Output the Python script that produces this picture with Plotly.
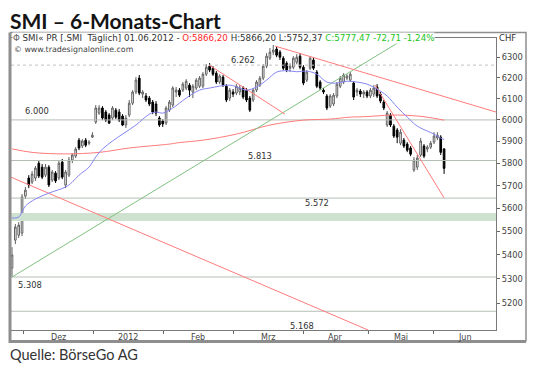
import math
import plotly.graph_objects as go

# ---------------- data ----------------
TITLE = "SMI – 6-Monats-Chart"
SOURCE = "Quelle: BörseGo AG"
SYMBOL = "SMI« PR [.SMI\u00a0\u00a0Täglich]"
LAST_DATE = "01.06.2012"
WEBSITE = "© www.tradesignalonline.com"
CURRENCY = "CHF"

OPEN = [5345, 5463, 5484, 5493, 5654, 5734, 5716, 5734, 5801, 5783,
        5747, 5783, 5725, 5756, 5734, 5806, 5703, 5747, 5815, 5833,
        5906, 5879, 5906, 5892, 5920, 5990, 6032, 6056, 6037, 6023,
        6009, 6046, 6037, 6018, 5976, 6023, 6079, 6132, 6199, 6122,
        6113, 6103, 6084, 6075, 6009, 5995, 5985, 6046, 6070, 6132,
        6141, 6141, 6151, 6165, 6132, 6151, 6160, 6160, 6218, 6257,
        6247, 6223, 6180, 6204, 6160, 6103, 6132, 6127, 6132, 6151,
        6141, 6103, 6094, 6141, 6165, 6199, 6257, 6296, 6326, 6341,
        6326, 6296, 6271, 6247, 6252, 6276, 6306, 6252, 6189, 6247,
        6287, 6228, 6180, 6141, 6113, 6065, 6075, 6113, 6160, 6180,
        6199, 6189, 6175, 6132, 6137, 6122, 6132, 6113, 6122, 6156,
        6122, 6084, 5976, 6023, 5971, 5953, 5892, 5906, 5888, 5870,
        5770, 5783, 5838, 5879, 5865, 5874, 5897, 5916, 5920, 5866.20]
HIGH = [5433, 5532, 5540, 5663, 5694, 5747, 5765, 5788, 5815, 5797,
        5797, 5792, 5770, 5765, 5815, 5820, 5770, 5829, 5847, 5874,
        5916, 5911, 5916, 5906, 5943, 6070, 6070, 6065, 6046, 6032,
        6065, 6056, 6051, 6027, 6023, 6094, 6141, 6204, 6214, 6141,
        6127, 6113, 6094, 6089, 6018, 6004, 6065, 6094, 6160, 6156,
        6151, 6180, 6194, 6175, 6170, 6199, 6209, 6228, 6267, 6272,
        6257, 6233, 6218, 6214, 6170, 6151, 6146, 6170, 6165, 6160,
        6151, 6113, 6151, 6189, 6209, 6267, 6321, 6346, 6361, 6356,
        6336, 6306, 6281, 6271, 6306, 6316, 6321, 6262, 6238, 6306,
        6300, 6238, 6189, 6151, 6122, 6122, 6127, 6180, 6209, 6223,
        6218, 6228, 6184, 6151, 6146, 6141, 6141, 6151, 6165, 6170,
        6132, 6094, 6042, 6032, 5981, 5962, 5957, 5916, 5897, 5879,
        5829, 5838, 5916, 5888, 5883, 5902, 5943, 5943, 5929, 5866.20]
LOW = [5308, 5446, 5472, 5480, 5641, 5689, 5707, 5721, 5734, 5729,
       5738, 5694, 5716, 5712, 5725, 5729, 5689, 5738, 5801, 5824,
       5860, 5870, 5874, 5883, 5916, 5981, 6023, 5999, 5990, 5981,
       5999, 6004, 5990, 5971, 5962, 6013, 6070, 6122, 6117, 6103,
       6084, 6065, 6027, 6018, 5967, 5967, 5976, 6037, 6060, 6108,
       6108, 6132, 6141, 6108, 6103, 6141, 6151, 6151, 6209, 6228,
       6209, 6170, 6170, 6156, 6084, 6089, 6108, 6117, 6117, 6098,
       6084, 6037, 6084, 6132, 6156, 6189, 6247, 6287, 6311, 6301,
       6287, 6238, 6228, 6228, 6242, 6266, 6242, 6165, 6180, 6238,
       6238, 6151, 6141, 6122, 6046, 6056, 6065, 6103, 6151, 6170,
       6189, 6180, 6094, 6113, 6108, 6103, 6103, 6103, 6108, 6103,
       6079, 6046, 5967, 5967, 5916, 5892, 5883, 5870, 5851, 5833,
       5761, 5770, 5829, 5824, 5851, 5865, 5888, 5906, 5838, 5752.37]
CLOSE = [5400, 5519, 5527, 5650, 5680, 5703, 5752, 5779, 5743, 5738,
         5783, 5703, 5761, 5721, 5801, 5738, 5761, 5815, 5838, 5865,
         5870, 5902, 5883, 5897, 5929, 6056, 6056, 6009, 5999, 5985,
         6056, 6013, 5999, 5976, 6009, 6079, 6132, 6189, 6127, 6132,
         6094, 6075, 6037, 6032, 5976, 5981, 6056, 6084, 6151, 6141,
         6117, 6170, 6184, 6141, 6160, 6189, 6199, 6218, 6252, 6238,
         6218, 6180, 6209, 6165, 6094, 6141, 6122, 6160, 6151, 6108,
         6094, 6046, 6141, 6180, 6199, 6257, 6306, 6326, 6336, 6311,
         6301, 6247, 6238, 6257, 6296, 6301, 6252, 6175, 6228, 6296,
         6247, 6160, 6151, 6132, 6056, 6113, 6117, 6170, 6199, 6214,
         6209, 6218, 6108, 6141, 6122, 6132, 6113, 6141, 6151, 6113,
         6089, 6056, 6032, 5976, 5925, 5920, 5943, 5879, 5860, 5842,
         5815, 5824, 5902, 5833, 5874, 5892, 5925, 5929, 5850.18, 5777.47]

# short moving average (blue), read at selected candles
MA_FAST_IDX = [0, 2, 4, 7, 11, 16, 18, 20, 23, 25, 27, 30, 33, 37, 41, 43, 45, 48, 52,
               56, 59, 65, 68, 70, 73, 76, 79, 82, 85, 88, 91, 94, 97, 100, 103, 106,
               109, 112, 115, 118, 121, 124, 126, 128, 129]
MA_FAST = [5558, 5562, 5610, 5641, 5667, 5694, 5716, 5747, 5783, 5829, 5865, 5902, 5934,
           5976, 6027, 6037, 6032, 6056, 6103, 6141, 6151, 6165, 6151, 6141, 6156, 6189,
           6228, 6235, 6230, 6233, 6218, 6180, 6175, 6184, 6180, 6170, 6146, 6113, 6060,
           6013, 5971, 5948, 5934, 5916, 5909]

# long moving average (red curve)
MA_SLOW_IDX = [0, 6, 16, 26, 35, 47, 50, 57, 67, 77, 87, 95, 101, 105, 115, 123, 129]
MA_SLOW = [5866, 5850, 5843, 5850, 5870, 5888, 5895, 5906, 5934, 5976, 5999, 6004,
           6013, 6015, 6023, 6015, 5999]

# drawn trend lines: (candle index, price) endpoints
GREEN_TREND = [(0, 5308), (117, 6390)]
RED_TRENDS = [
    [(-0.3, 5738), (106.3, 5093)],
    [(58.9, 6262), (81.5, 6027)],
    [(78.5, 6356), (144.5, 6037)],
    [(108.4, 6165), (129, 5646)],
]

# horizontal levels
LEVEL_DOTTED = 6262
LEVELS = [6000, 5813, 5645, 5308, 5168]
BAND = (5545, 5580)
LEVEL_TEXT = ["6.262", "6.000", "5.813", "5.572", "5.308", "5.168"]
LEVEL_TEXT_IDX = [69, 7.4, 74, 91.2, 5.5, 86.7]
LEVEL_TEXT_PRICE = [6287, 6042, 5833, 5622, 5275, 5107]

Y_TICKS = [5200, 5300, 5400, 5500, 5600, 5700, 5800, 5900, 6000, 6100, 6200, 6300]
MONTH_LABELS = ["Dez", "2012", "Feb", "Mrz", "Apr", "Mai", "Jun"]
MONTH_BOUNDS = [3.3, 24.2, 45.1, 66.0, 86.9, 106.3, 125.7]
X_RANGE = [-0.3, 144.5]
Y_RANGE = [5093, 6396]

# ---------------- layout geometry (pixels of the 535x371 figure) ----------------
W, H = 535, 371
PL, PR, PT, PB = 11, 496, 38, 330
FRAME_L, FRAME_R, FRAME_T, FRAME_B = 10, 526, 32.5, 341.5


def fx(px):
    return px / W


def fy(py):
    return 1 - py / H


FONT = "DejaVu Sans, Verdana, sans-serif"
RED_LINE = "#ff7b7b"
GREEN_LINE = "#80c080"
BLUE_LINE = "#8585f5"
LEVEL_COLOR = "#b5beb5"
FR = "#8e8e8e"

fig = go.Figure()

# outer chart frame on a full-figure axis pair (pixel units), drawn first (underneath)
fig.add_trace(go.Scatter(x=[FRAME_L, FRAME_R, FRAME_R], y=[FRAME_T, FRAME_T, FRAME_B],
                         xaxis="x2", yaxis="y2", mode="lines",
                         line=dict(color=FR, width=1.5), hoverinfo="skip", showlegend=False))
fig.add_trace(go.Scatter(x=[FRAME_L, FRAME_L, FRAME_R], y=[FRAME_T, FRAME_B, FRAME_B],
                         xaxis="x2", yaxis="y2", mode="lines",
                         line=dict(color=FR, width=3), hoverinfo="skip", showlegend=False))

# band and level lines
fig.add_trace(go.Scatter(x=[X_RANGE[0], X_RANGE[1], X_RANGE[1], X_RANGE[0], X_RANGE[0]],
                         y=[BAND[0], BAND[0], BAND[1], BAND[1], BAND[0]],
                         mode="lines", fill="toself", fillcolor="#cfe2cf",
                         line=dict(width=0, color="#cfe2cf"),
                         hoverinfo="skip", showlegend=False))
fig.add_trace(go.Scatter(x=X_RANGE, y=[LEVEL_DOTTED, LEVEL_DOTTED], mode="lines",
                         line=dict(color="#c2c2c2", width=1, dash="dot"),
                         hoverinfo="skip", showlegend=False))
for lv in LEVELS:
    fig.add_trace(go.Scatter(x=X_RANGE, y=[lv, lv], mode="lines",
                             line=dict(color=LEVEL_COLOR, width=1),
                             hoverinfo="skip", showlegend=False))

# long MA
fig.add_trace(go.Scatter(x=MA_SLOW_IDX, y=MA_SLOW, mode="lines",
                         line=dict(color=RED_LINE, width=1, shape="spline"),
                         hoverinfo="skip", showlegend=False))
# trend lines
fig.add_trace(go.Scatter(x=[p[0] for p in GREEN_TREND], y=[p[1] for p in GREEN_TREND],
                         mode="lines", line=dict(color=GREEN_LINE, width=1),
                         hoverinfo="skip", showlegend=False))
for seg in RED_TRENDS:
    fig.add_trace(go.Scatter(x=[p[0] for p in seg], y=[p[1] for p in seg], mode="lines",
                             line=dict(color=RED_LINE, width=1),
                             hoverinfo="skip", showlegend=False))
# short MA
fig.add_trace(go.Scatter(x=MA_FAST_IDX, y=MA_FAST, mode="lines",
                         line=dict(color=BLUE_LINE, width=1, shape="spline"),
                         hoverinfo="skip", showlegend=False))
# candles
fig.add_trace(go.Candlestick(
    x=list(range(len(CLOSE))), open=OPEN, high=HIGH, low=LOW, close=CLOSE,
    increasing=dict(line=dict(color="#606060", width=1), fillcolor="#ffffff"),
    decreasing=dict(line=dict(color="#000000", width=1), fillcolor="#000000"),
    whiskerwidth=0, hoverinfo="skip", showlegend=False))

annotations = []
for txt, xi, pr in zip(LEVEL_TEXT, LEVEL_TEXT_IDX, LEVEL_TEXT_PRICE):
    annotations.append(dict(x=xi, y=math.log10(pr), xref="x", yref="y", text=txt,
                            showarrow=False, font=dict(family=FONT, size=8.3, color="#333333")))

# month labels centred between month boundaries
for k, lab in enumerate(MONTH_LABELS):
    nxt = MONTH_BOUNDS[k + 1] if k + 1 < len(MONTH_BOUNDS) else X_RANGE[1]
    annotations.append(dict(x=(MONTH_BOUNDS[k] + nxt) / 2, y=fy(337), xref="x", yref="paper",
                            yanchor="middle", text=lab, showarrow=False,
                            font=dict(family=FONT, size=8, color="#444444")))


def de(v):
    return f"{v:.2f}".replace(".", ",")


chg = CLOSE[-1] - CLOSE[-2]
pct = chg / CLOSE[-2] * 100
header = (f'<span style="color:#666">Φ</span> {SYMBOL} {LAST_DATE} - '
          f'<span style="color:#ff2a2a">O:{de(OPEN[-1])}</span> '
          f'H:{de(HIGH[-1])} L:{de(LOW[-1])} '
          f'<span style="color:#22c322">C:{de(CLOSE[-1])} {de(chg)} {de(pct)}%</span>')
annotations += [
    dict(x=fx(12), y=fy(38.5), xref="paper", yref="paper", xanchor="left", yanchor="middle",
         text=header, showarrow=False, bgcolor="#ffffff", borderpad=0,
         font=dict(family=FONT, size=8.7, color="#333333")),
    dict(x=fx(12), y=fy(49.5), xref="paper", yref="paper", xanchor="left", yanchor="middle",
         text=WEBSITE, showarrow=False, font=dict(family=FONT, size=7.9, color="#444444")),
    dict(x=fx(497), y=fy(38.5), xref="paper", yref="paper", xanchor="left", yanchor="middle",
         text=CURRENCY, showarrow=False, font=dict(family=FONT, size=8.5, color="#333333")),
    dict(x=fx(8), y=fy(20), xref="paper", yref="paper", xanchor="left", yanchor="middle",
         text=f"<b>{TITLE}</b>", showarrow=False, font=dict(family="Lato", size=21, color="#141414")),
    dict(x=fx(8), y=fy(354), xref="paper", yref="paper", xanchor="left", yanchor="middle",
         text=SOURCE, showarrow=False, font=dict(family="Lato", size=14.5, color="#333333")),
]

fig.update_layout(
    width=W, height=H,
    margin=dict(l=0, r=0, t=0, b=0, pad=0),
    paper_bgcolor="#ffffff", plot_bgcolor="rgba(0,0,0,0)",
    showlegend=False, hovermode=False,
    annotations=annotations,
    xaxis=dict(domain=[fx(PL), fx(PR)], range=X_RANGE, showgrid=False, zeroline=False,
               showline=True, linecolor="#7a7a7a", linewidth=1, mirror=True,
               ticks="outside", ticklen=3, tickcolor="#666666",
               tickmode="array", tickvals=MONTH_BOUNDS, ticktext=[""] * len(MONTH_BOUNDS),
               rangeslider=dict(visible=False), fixedrange=True),
    yaxis=dict(domain=[fy(PB), fy(PT)], type="log",
               range=[math.log10(Y_RANGE[0]), math.log10(Y_RANGE[1])],
               side="right", showgrid=False, zeroline=False,
               showline=True, linecolor="#7a7a7a", linewidth=1, mirror=True,
               ticks="outside", ticklen=3, tickcolor="#666666",
               tickmode="array", tickvals=Y_TICKS, ticktext=[str(t) for t in Y_TICKS],
               tickfont=dict(family=FONT, size=8.3, color="#444444"), fixedrange=True),
    xaxis2=dict(domain=[0, 1], range=[0, W], showgrid=False, zeroline=False,
                showline=False, showticklabels=False, ticks="", anchor="y2", fixedrange=True),
    yaxis2=dict(domain=[0, 1], range=[H, 0], showgrid=False, zeroline=False,
                showline=False, showticklabels=False, ticks="", anchor="x2", fixedrange=True),
)

fig.write_html("out.html", config={"displayModeBar": False, "staticPlot": True},
               post_script="document.body.style.margin='0px';")
